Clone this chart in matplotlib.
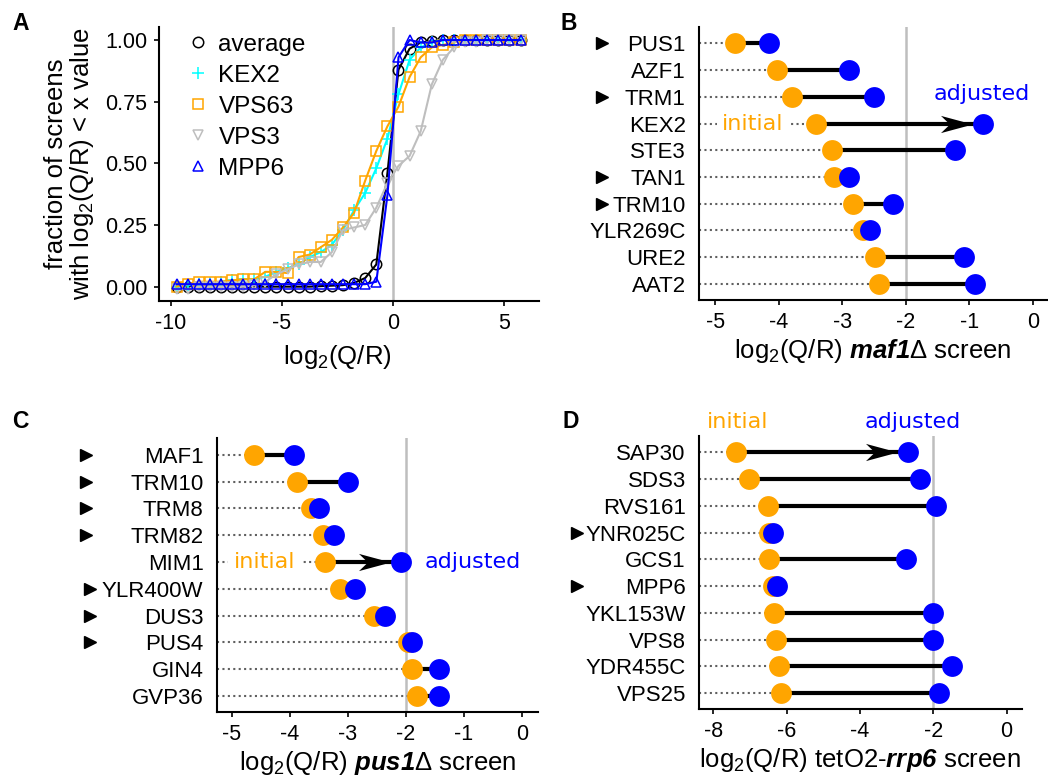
import matplotlib
matplotlib.use('Agg')
import matplotlib.pyplot as plt
from matplotlib.lines import Line2D
from matplotlib.path import Path

plt.rcParams['font.family'] = ['Liberation Sans', 'DejaVu Sans']
plt.rcParams['axes.unicode_minus'] = False
plt.rcParams['mathtext.fontset'] = 'custom'
plt.rcParams['mathtext.rm'] = 'Liberation Sans'
plt.rcParams['mathtext.it'] = 'Liberation Sans:italic'
plt.rcParams['mathtext.bf'] = 'Liberation Sans:bold'
if 'mathtext.bfit' in plt.rcParams:
    plt.rcParams['mathtext.bfit'] = 'Liberation Sans:bold:italic'
    BFIT = r'\mathbfit'
else:
    BFIT = r'\mathbf'

ORANGE = '#FFA500'
BLUE = '#0000FF'
GREY = '#BEBEBE'

# ---- panel A: cumulative fraction of screens ----
qr_bins = [-9.75, -9.25, -8.75, -8.25, -7.75, -7.25, -6.75, -6.25, -5.75, -5.25,
           -4.75, -4.25, -3.75, -3.25, -2.75, -2.25, -1.75, -1.25, -0.75, -0.25,
           0.25, 0.75, 1.25, 1.75, 2.25, 2.75, 3.25, 3.75, 4.25, 4.75, 5.25, 5.75]
avg_frac = [0, 0, 0, 0, 0, 0, 0, 0, 0, 0, 0, 0, 0, 0.002, 0.004, 0.006,
            0.015, 0.035, 0.09, 0.46, 0.88, 0.965, 0.99, 0.995, 1, 1, 1, 1, 1, 1, 1, 1]
kex2_frac = [0, 0.005, 0.01, 0.015, 0.02, 0.025, 0.03, 0.03, 0.04, 0.06, 0.075,
             0.09, 0.12, 0.14, 0.17, 0.23, 0.31, 0.38, 0.48, 0.60, 0.78, 0.92,
             0.97, 0.99, 1, 1, 1, 1, 1, 1, 1, 1]
vps63_frac = [0, 0.01, 0.02, 0.02, 0.02, 0.025, 0.03, 0.03, 0.06, 0.06, 0.055,
              0.12, 0.13, 0.16, 0.19, 0.24, 0.30, 0.43, 0.55, 0.65, 0.73, 0.85,
              0.93, 0.97, 0.98, 0.99, 1, 1, 1, 1, 1, 1]
vps3_frac = [-0.01, -0.01, 0, 0, 0, 0, 0, 0.005, 0.02, 0.05, 0.07, 0.09, 0.10,
             0.10, 0.14, 0.23, 0.24, 0.25, 0.32, 0.42, 0.49, 0.53, 0.63, 0.82,
             0.92, 0.97, 0.99, 0.99, 1, 1, 1, 1]
mpp6_frac = [0.01, 0.01, 0.01, 0.01, 0.01, 0.01, 0.01, 0.01, 0.01, 0.01, 0.01,
             0.01, 0.01, 0.01, 0.01, 0.01, 0.01, 0.01, 0.02, 0.37, 0.93, 1.0,
             0.99, 0.99, 1, 1, 1, 1, 1, 1, 1, 1]

# ---- panel B: maf1 screen ----
b_genes = ['PUS1', 'AZF1', 'TRM1', 'KEX2', 'STE3', 'TAN1', 'TRM10', 'YLR269C', 'URE2', 'AAT2']
b_initial = [-4.69, -4.03, -3.80, -3.41, -3.17, -3.13, -2.84, -2.68, -2.49, -2.43]
b_adjusted = [-4.15, -2.90, -2.50, -0.78, -1.22, -2.89, -2.21, -2.57, -1.08, -0.91]
b_marked = ['PUS1', 'TRM1', 'TAN1', 'TRM10']

# ---- panel C: pus1 screen ----
c_genes = ['MAF1', 'TRM10', 'TRM8', 'TRM82', 'MIM1', 'YLR400W', 'DUS3', 'PUS4', 'GIN4', 'GVP36']
c_initial = [-4.61, -3.87, -3.64, -3.43, -3.40, -3.13, -2.54, -1.96, -1.90, -1.81]
c_adjusted = [-3.93, -3.00, -3.49, -3.24, -2.08, -2.88, -2.36, -1.89, -1.43, -1.43]
c_marked = ['MAF1', 'TRM10', 'TRM8', 'TRM82', 'YLR400W', 'DUS3', 'PUS4']

# ---- panel D: tetO2-rrp6 screen ----
d_genes = ['SAP30', 'SDS3', 'RVS161', 'YNR025C', 'GCS1', 'MPP6', 'YKL153W', 'VPS8', 'YDR455C', 'VPS25']
d_initial = [-7.38, -7.02, -6.52, -6.48, -6.49, -6.36, -6.34, -6.28, -6.22, -6.16]
d_adjusted = [-2.70, -2.35, -1.93, -6.36, -2.75, -6.25, -2.00, -2.02, -1.48, -1.84]
d_marked = ['YNR025C', 'MPP6']

W, H = 1048, 776
TICK_FS = 15.5
LABEL_FS = 18.5

# stealth arrowhead, drawn in points; tip sits at the edge of the adjusted dot
_r, _L, _w = 7.6, 23.0, 6.2
STEALTH = Path([(-_r, 0), (-_r - _L, _w), (-_r - 0.72 * _L, 0), (-_r - _L, -_w), (-_r, 0)],
               [Path.MOVETO, Path.LINETO, Path.LINETO, Path.LINETO, Path.CLOSEPOLY])
STEALTH_MS = 2 * (_r + _L)


def px_axes(left, top, right, bottom):
    return fig.add_axes([left / W, 1 - bottom / H, (right - left) / W, (bottom - top) / H])


def style_axes(ax):
    for s in ['top', 'right']:
        ax.spines[s].set_visible(False)
    for s in ['left', 'bottom']:
        ax.spines[s].set_linewidth(1.5)
    ax.tick_params(labelsize=TICK_FS, width=1.2, length=3.5, pad=5)


def lollipop(ax, genes, initial, adjusted, marked, arrow_gene, xlim, ylim, mark_x):
    style_axes(ax)
    n = len(genes)
    ys = [n - 1 - i for i in range(n)]
    ax.set_xlim(*xlim)
    ax.set_ylim(*ylim)
    ax.axvline(-2, color=GREY, lw=1.8, zorder=0)
    for g, y, a, b in zip(genes, ys, initial, adjusted):
        ax.plot([xlim[0], a], [y, y], color='#606060', lw=1.5,
                linestyle=(0, (1, 1.6)), zorder=1)
        ax.plot([a, b], [y, y], color='black', lw=3, solid_capstyle='butt', zorder=2)
        if g == arrow_gene:
            ax.plot([b], [y], marker=STEALTH, ms=STEALTH_MS, color='black',
                    mec='none', linestyle='None', zorder=2)
        if g in marked:
            ax.plot([mark_x.get(g, mark_x['default'])], [y], marker='>', ms=8,
                    color='black', linestyle='None', clip_on=False,
                    transform=ax.get_yaxis_transform())
    ax.plot(initial, ys, 'o', ms=15, color=ORANGE, mec='none', zorder=3, clip_on=False)
    ax.plot(adjusted, ys, 'o', ms=15, color=BLUE, mec='none', zorder=4, clip_on=False)
    ax.set_yticks(ys)
    ax.set_yticklabels(genes, fontsize=TICK_FS + 0.5)
    ax.tick_params(axis='y', length=0, pad=9.5)


fig = plt.figure(figsize=(W / 100, H / 100), dpi=100)

# panel A
axA = px_axes(159, 26.7, 539, 300.7)
style_axes(axA)
axA.axvline(0, color=GREY, lw=1.8, zorder=0)
series = [
    ('average', avg_frac, 'black', 'o', 7.5),
    ('KEX2', kex2_frac, 'cyan', '+', 9),
    ('VPS63', vps63_frac, ORANGE, 's', 6.5),
    ('VPS3', vps3_frac, GREY, 'v', 7.5),
    ('MPP6', mpp6_frac, BLUE, '^', 7.5),
]
handles = []
for name, vals, col, mk, ms in series:
    axA.plot(qr_bins, vals, color=col, lw=1.5, marker=mk, ms=ms,
             mfc='none', mec=col, mew=1.1)
    handles.append(Line2D([], [], linestyle='None', marker=mk, ms=ms,
                          mfc='none', mec=col, mew=1.1, label=name))
axA.set_xlim(-10.54, 6.58)
axA.set_ylim(-0.057, 1.054)
axA.set_xticks([-10, -5, 0, 5])
axA.set_yticks([0, 0.25, 0.5, 0.75, 1.0])
axA.set_yticklabels(['0.00', '0.25', '0.50', '0.75', '1.00'])
axA.set_xlabel('log$_2$(Q/R)', fontsize=LABEL_FS, labelpad=3)
axA.xaxis.set_label_coords(0.47, -0.155)
axA.set_ylabel('fraction of screens\nwith log$_2$(Q/R) < x value',
               fontsize=LABEL_FS, labelpad=6, linespacing=1.0)
axA.legend(handles=handles, loc='upper left', bbox_to_anchor=(0.07, 0.975),
           frameon=False, fontsize=17.5, handlelength=1.0, handletextpad=0.35,
           labelspacing=0.37, borderaxespad=0, borderpad=0)

# panel B
axB = px_axes(699, 26.7, 1047, 300)
lollipop(axB, b_genes, b_initial, b_adjusted, b_marked, 'KEX2',
         (-5.26, 0.225), (-0.6, 9.62), {'default': -0.28})
axB.set_xticks([-5, -4, -3, -2, -1, 0])
axB.set_xlabel(r'log$_2$(Q/R) $' + BFIT + r'{maf1}$Δ screen', fontsize=LABEL_FS, labelpad=3)
axB.text(-4.41, 6, 'initial', color=ORANGE, fontsize=16, family='DejaVu Sans',
         ha='center', va='center', zorder=5,
         bbox=dict(boxstyle='square,pad=0.25', fc='white', ec='none'))
axB.text(-0.80, 7.1, 'adjusted', color=BLUE, fontsize=16, family='DejaVu Sans',
         ha='center', va='center', zorder=5)

# panel C
axC = px_axes(216.7, 438, 538, 711.7)
lollipop(axC, c_genes, c_initial, c_adjusted, c_marked, 'MIM1',
         (-5.26, 0.28), (-0.59, 9.63),
         {'default': -0.407, 'YLR400W': -0.394, 'DUS3': -0.394, 'PUS4': -0.394})
axC.set_xticks([-5, -4, -3, -2, -1, 0])
axC.set_xlabel(r'log$_2$(Q/R) $' + BFIT + r'{pus1}$Δ screen', fontsize=LABEL_FS, labelpad=3)
axC.text(-4.44, 5, 'initial', color=ORANGE, fontsize=16, family='DejaVu Sans',
         ha='center', va='center', zorder=5,
         bbox=dict(boxstyle='square,pad=0.25', fc='white', ec='none'))
axC.text(-0.85, 5, 'adjusted', color=BLUE, fontsize=16, family='DejaVu Sans',
         ha='center', va='center', zorder=5, clip_on=False)

# panel D
axD = px_axes(699, 436, 1021.7, 709.3)
lollipop(axD, d_genes, d_initial, d_adjusted, d_marked, 'SAP30',
         (-8.39, 0.41), (-0.6, 9.61), {'default': -0.379})
axD.set_xticks([-8, -6, -4, -2, 0])
axD.set_xlabel(r'log$_2$(Q/R) tetO2-$' + BFIT + r'{rrp6}$ screen', fontsize=LABEL_FS, labelpad=3)
axD.text(-7.35, 10.13, 'initial', color=ORANGE, fontsize=16, family='DejaVu Sans',
         ha='center', va='center', clip_on=False)
axD.text(-2.56, 10.13, 'adjusted', color=BLUE, fontsize=16, family='DejaVu Sans',
         ha='center', va='center', clip_on=False)

# panel letters
for letter, x, y in [('A', 12, 12), ('B', 561, 12), ('C', 12, 410), ('D', 562, 410)]:
    fig.text(x / W, 1 - y / H, letter, fontsize=16.5, fontweight='bold', ha='left', va='top')

fig.savefig('out.png', dpi=100)
